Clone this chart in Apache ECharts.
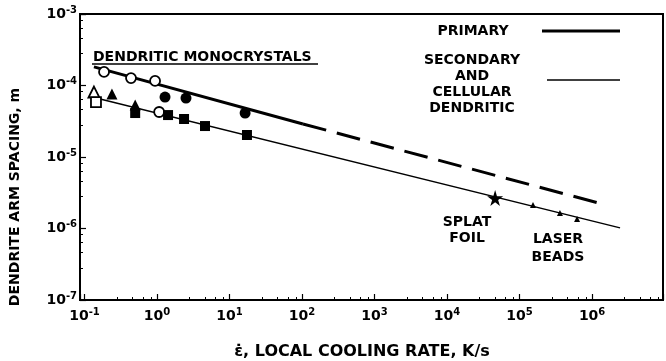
<!DOCTYPE html>
<html>
<head>
<meta charset="utf-8">
<script src="https://cdn.jsdelivr.net/npm/echarts@6/dist/echarts.min.js"></script>
<style>
html,body{margin:0;padding:0;background:#fff}
#chart{width:666px;height:361px}
</style>
</head>
<body>
<div id="chart"></div>
<script>
// axis ranges (log scale)
const xRange = [0.0867, 9.5e6]
const yRange = [1e-7, 1e-3]

// primary arm spacing: measured (solid) and extrapolated (dashed)
const primarySolid = [[0.135, 1.82e-4], [103, 2.9e-5]]
const primaryDashed = [[103, 2.9e-5], [1.21e6, 2.28e-6]]
// secondary and cellular dendritic
const secondaryLine = [[0.127, 6.9e-5], [2.43e6, 1.02e-6]]

// data points
const openCircles = [[0.186, 1.55e-4], [0.438, 1.27e-4], [0.94, 1.16e-4], [1.07, 4.26e-5]]
const filledCircles = [[1.29, 6.9e-5], [2.51, 6.68e-5], [16.4, 4.12e-5]]
const openTriangles = [[0.135, 8.1e-5]]
const filledTriangles = [[0.239, 7.6e-5], [0.50, 5.33e-5]]
const openSquares = [[0.144, 5.87e-5]]
const filledSquares = [[0.50, 4.12e-5], [1.42, 3.86e-5], [2.36, 3.4e-5], [4.59, 2.71e-5], [17.4, 2.03e-5]]
const splatFoil = [[4.6e4, 2.67e-6]]
const laserBeads = [[1.53e5, 2.13e-6], [3.6e5, 1.65e-6], [6.2e5, 1.36e-6]]

const FONT = '"DejaVu Sans", sans-serif'
const STAR = 'path://M50,0 L61,35 L98,35 L68,57 L79,91 L50,70 L21,91 L32,57 L2,35 L39,35 Z'

function powLabel (v) {
  let e = Math.round(Math.log10(v))
  return '{b|10}{s|' + e + '}'
}

let labelRich = {
  b: { fontSize: 14, fontWeight: 'bold', fontFamily: FONT, color: '#000', lineHeight: 18 },
  s: { fontSize: 10, fontWeight: 'bold', fontFamily: FONT, color: '#000', lineHeight: 11, verticalAlign: 'top' }
}

function lineSeries (data, width, type) {
  return {
    type: 'line',
    data: data,
    showSymbol: false,
    silent: true,
    z: 2,
    lineStyle: { color: '#000', width: width, type: type || 'solid' }
  }
}

function pointSeries (data, symbol, size, open) {
  return {
    type: 'scatter',
    data: data,
    symbol: symbol,
    symbolSize: size,
    z: 5,
    itemStyle: open
      ? { color: '#fff', borderColor: '#000', borderWidth: 1.8, opacity: 1 }
      : { color: '#000', opacity: 1 }
  }
}

let chart = echarts.init(document.getElementById('chart'))

let option = {
  backgroundColor: '#fff',
  animation: false,
  grid: {
    left: 80, right: 3, top: 14, bottom: 61,
    show: true, borderColor: '#000', borderWidth: 2
  },
  xAxis: {
    type: 'log',
    logBase: 10,
    min: xRange[0],
    max: xRange[1],
    axisLine: { show: true, lineStyle: { color: '#000', width: 2 } },
    axisTick: { show: true, inside: true, length: 6, lineStyle: { color: '#000', width: 1.2 } },
    minorTick: { show: true, splitNumber: 5, length: 3, lineStyle: { color: '#000' } },
    splitLine: { show: false },
    axisLabel: {
      margin: 7,
      showMinLabel: false,
      showMaxLabel: false,
      formatter: powLabel,
      rich: labelRich
    }
  },
  yAxis: {
    type: 'log',
    logBase: 10,
    min: yRange[0],
    max: yRange[1],
    axisLine: { show: true, lineStyle: { color: '#000', width: 2 } },
    axisTick: { show: true, inside: true, length: 6, lineStyle: { color: '#000', width: 1.2 } },
    minorTick: { show: true, splitNumber: 5, length: 3, lineStyle: { color: '#000' } },
    splitLine: { show: false },
    axisLabel: {
      margin: 3,
      formatter: powLabel,
      rich: labelRich
    }
  },
  series: [
    lineSeries(primarySolid, 3),
    lineSeries(primaryDashed, 3, [24, 11]),
    lineSeries(secondaryLine, 1.5),
    pointSeries(openCircles, 'circle', 10, true),
    pointSeries(filledCircles, 'circle', 11, false),
    pointSeries(openTriangles, 'triangle', 11, true),
    pointSeries(filledTriangles, 'triangle', 11, false),
    pointSeries(openSquares, 'rect', 10, true),
    pointSeries(filledSquares, 'rect', 10, false),
    pointSeries(splatFoil, STAR, 16, false),
    pointSeries(laserBeads, 'triangle', 6, false)
  ],
  graphic: [
    // axis titles
    {
      type: 'text', x: 15, y: 197, rotation: Math.PI / 2,
      style: { text: 'DENDRITE ARM SPACING, m', font: 'bold 14px ' + FONT, fill: '#000', textAlign: 'center', textVerticalAlign: 'middle' }
    },
    {
      type: 'text', x: 362, y: 352,
      style: { text: '\u03b5\u0307, LOCAL COOLING RATE, K/s', font: 'bold 16px ' + FONT, fill: '#000', textAlign: 'center', textVerticalAlign: 'middle' }
    },
    // annotations
    {
      type: 'text', x: 93, y: 57,
      style: { text: 'DENDRITIC MONOCRYSTALS', font: 'bold 14px ' + FONT, fill: '#000', textAlign: 'left', textVerticalAlign: 'middle' }
    },
    {
      type: 'line', shape: { x1: 92, y1: 64, x2: 318, y2: 64 },
      style: { stroke: '#000', lineWidth: 1.5 }
    },
    {
      type: 'text', x: 467, y: 214,
      style: { text: 'SPLAT\nFOIL', font: 'bold 14px ' + FONT, lineHeight: 16, fill: '#000', textAlign: 'center', textVerticalAlign: 'top' }
    },
    {
      type: 'text', x: 558, y: 230,
      style: { text: 'LASER\nBEADS', font: 'bold 14px ' + FONT, lineHeight: 18, fill: '#000', textAlign: 'center', textVerticalAlign: 'top' }
    },
    // key
    {
      type: 'text', x: 473, y: 31,
      style: { text: 'PRIMARY', font: 'bold 14px ' + FONT, fill: '#000', textAlign: 'center', textVerticalAlign: 'middle' }
    },
    {
      type: 'line', shape: { x1: 542, y1: 31, x2: 620, y2: 31 },
      style: { stroke: '#000', lineWidth: 3 }
    },
    {
      type: 'text', x: 472, y: 52,
      style: { text: 'SECONDARY\nAND\nCELLULAR\nDENDRITIC', font: 'bold 14px ' + FONT, lineHeight: 16, fill: '#000', textAlign: 'center', textVerticalAlign: 'top' }
    },
    {
      type: 'line', shape: { x1: 547, y1: 80, x2: 620, y2: 80 },
      style: { stroke: '#000', lineWidth: 1.5 }
    }
  ]
}

chart.setOption(option)
</script>
</body>
</html>
